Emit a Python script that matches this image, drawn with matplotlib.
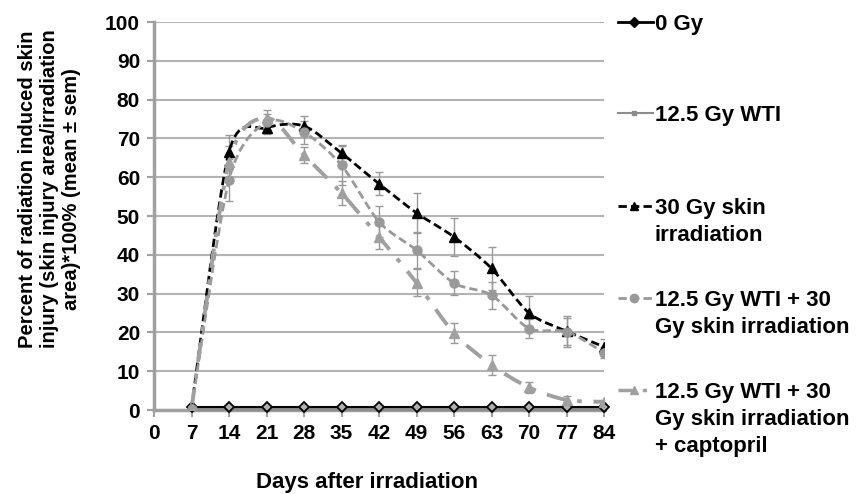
import numpy as np
import matplotlib
matplotlib.use("Agg")
import matplotlib.pyplot as plt
from matplotlib.path import Path
from matplotlib.patches import PathPatch
from matplotlib.lines import Line2D

plt.rcParams['font.family'] = ['Liberation Sans', 'DejaVu Sans']
plt.rcParams['font.weight'] = 'bold'

# data
days = [7, 14, 21, 28, 35, 42, 49, 56, 63, 70, 77, 84]
gy0 = [0.9, 0.9, 0.9, 0.9, 0.9, 0.9, 0.9, 0.9, 0.9, 0.9, 0.9, 0.9]
wti = [0.3, 0.3, 0.3, 0.3, 0.3, 0.3, 0.3, 0.3, 0.3, 0.3, 0.3, 0.3]
skin30 = [0.5, 66.5, 72.7, 73.2, 66.2, 58.3, 50.8, 44.6, 36.5, 25.0, 20.3, 16.3]
skin30_err = [0.3, 4.5, 1.5, 2.5, 2.0, 3.0, 5.0, 5.0, 5.5, 4.5, 3.5, 2.0]
wti_skin = [0.3, 59.3, 74.2, 71.6, 63.1, 48.5, 41.2, 32.7, 29.6, 21.0, 20.2, 14.8]
wti_skin_err = [0.3, 5.5, 2.0, 3.0, 5.0, 4.0, 4.5, 3.0, 3.5, 2.5, 4.0, 1.5]
capto = [0.3, 64.0, 75.3, 65.7, 55.9, 44.6, 32.8, 19.8, 11.6, 5.8, 2.6, 2.1]
capto_err = [0.3, 4.0, 2.0, 2.0, 3.0, 3.0, 3.5, 2.5, 2.5, 1.5, 1.0, 0.5]

labels = ['0 Gy', '12.5 Gy WTI', '30 Gy skin\nirradiation',
          '12.5 Gy WTI + 30\nGy skin irradiation',
          '12.5 Gy WTI + 30\nGy skin irradiation\n+ captopril']
xticks = list(range(0, 85, 7))
yticks = list(range(0, 101, 10))


def smooth_path(x, y, k=0.14):
    # Excel-like smoothed line: Catmull-Rom style cubic Bezier segments
    p = np.column_stack([x, y]).astype(float)
    verts = [p[0]]
    codes = [Path.MOVETO]
    n = len(p)
    for i in range(n - 1):
        p0 = p[i - 1] if i > 0 else p[i]
        p3 = p[i + 2] if i + 2 < n else p[i + 1]
        c1 = p[i] + (p[i + 1] - p0) * k
        c2 = p[i + 1] - (p3 - p[i]) * k
        verts += [c1, c2, p[i + 1]]
        codes += [Path.CURVE4] * 3
    return Path(verts, codes)


fig = plt.figure(figsize=(8.57, 4.94), dpi=100)
W, H = 857.0, 494.0
ax = fig.add_axes([154 / W, 1 - 410 / H, 450 / W, 388 / H])

grid_c = '#b4b4b4'
ax.set_xlim(0, 84)
ax.set_ylim(0, 100)
ax.set_yticks(yticks)
ax.set_xticks(xticks)
ax.yaxis.grid(True, color=grid_c, linewidth=1.5)
ax.set_axisbelow(True)
for s in ['top', 'right']:
    ax.spines[s].set_visible(False)
ax.spines['left'].set_color('#a0a0a0')
ax.spines['left'].set_linewidth(2.5)
ax.spines['bottom'].set_color('#a0a0a0')
ax.spines['bottom'].set_linewidth(2.5)
ax.tick_params(axis='both', colors='#a0a0a0', width=1.5, length=5,
               labelcolor='black', labelsize=15)
ax.tick_params(axis='x', pad=5)
ax.tick_params(axis='y', pad=5)
for t in ax.get_xticklabels() + ax.get_yticklabels():
    t.set_fontweight('bold')

# flat control series
ax.plot(days, wti, color='#8c8c8c', lw=3, marker='s', ms=3, zorder=3, clip_on=False)
ax.plot(days, gy0, color='black', lw=1.5, marker='D', ms=5, mfc='#b0b0b0',
        mec='black', mew=1.3, zorder=4, clip_on=False)

series = [
    (skin30, skin30_err, 'black', (0, (3, 1.5)), '^', 'black', 2.0),
    (wti_skin, wti_skin_err, '#999999', (0, (3, 1.5)), 'o', '#999999', 2.0),
    (capto, capto_err, '#a0a0a0', (0, (5, 3, 1.2, 3)), '^', '#a0a0a0', 2.8),
]
for vals, err, col, ls, mk, mcol, lw in series:
    ax.errorbar(days, vals, yerr=err, fmt='none', ecolor='#999999',
                elinewidth=1, capsize=3, capthick=1, zorder=2)
    ax.add_patch(PathPatch(smooth_path(days, vals), fill=False, edgecolor=col,
                           lw=lw, linestyle=ls, zorder=5))
    ax.plot(days, vals, linestyle='none', marker=mk, ms=6.5, color=mcol, zorder=6)

fig.text(367 / W, 1 - 482 / H, 'Days after irradiation', ha='center', va='center',
         fontsize=16, fontweight='bold')
fig.text(50 / W, 1 - 189 / H,
         'Percent of radiation induced skin\ninjury (skin injury area/irradiation\narea)*100% (mean ± sem)',
         ha='center', va='center', rotation=90, fontsize=14.5, fontweight='bold',
         linespacing=1.2, multialignment='center')

# legend on the right, drawn by hand
leg_y = [22, 113, 206, 298, 390]
styles = [
    dict(color='black', lw=2, marker='D', ms=5, ls='-'),
    dict(color='#8c8c8c', lw=1.5, marker='s', ms=3, ls='-'),
    dict(color='black', lw=2, marker='^', ms=6, ls=(0, (3, 1.5))),
    dict(color='#999999', lw=2, marker='o', ms=6, ls=(0, (3, 1.5))),
    dict(color='#a0a0a0', lw=2.5, marker='^', ms=6, ls=(0, (4, 3, 1.2, 3))),
]
fs_leg = 16
cap = 0.716 * fs_leg * 100 / 72
for yp, lab, st in zip(leg_y, labels, styles):
    yf = 1 - yp / H
    fig.add_artist(Line2D([618 / W, 653 / W], [yf, yf], transform=fig.transFigure,
                          color=st['color'], lw=st['lw'], ls=st['ls']))
    fig.add_artist(Line2D([634 / W], [yf], transform=fig.transFigure,
                          color=st['color'], marker=st['marker'], ms=st['ms'], ls='none'))
    for j, line in enumerate(lab.split('\n')):
        base = yp + cap / 2 + j * 27
        fig.text(655 / W, 1 - base / H, line, ha='left', va='baseline',
                 fontsize=fs_leg, fontweight='bold')

fig.savefig('out.png', dpi=100)
